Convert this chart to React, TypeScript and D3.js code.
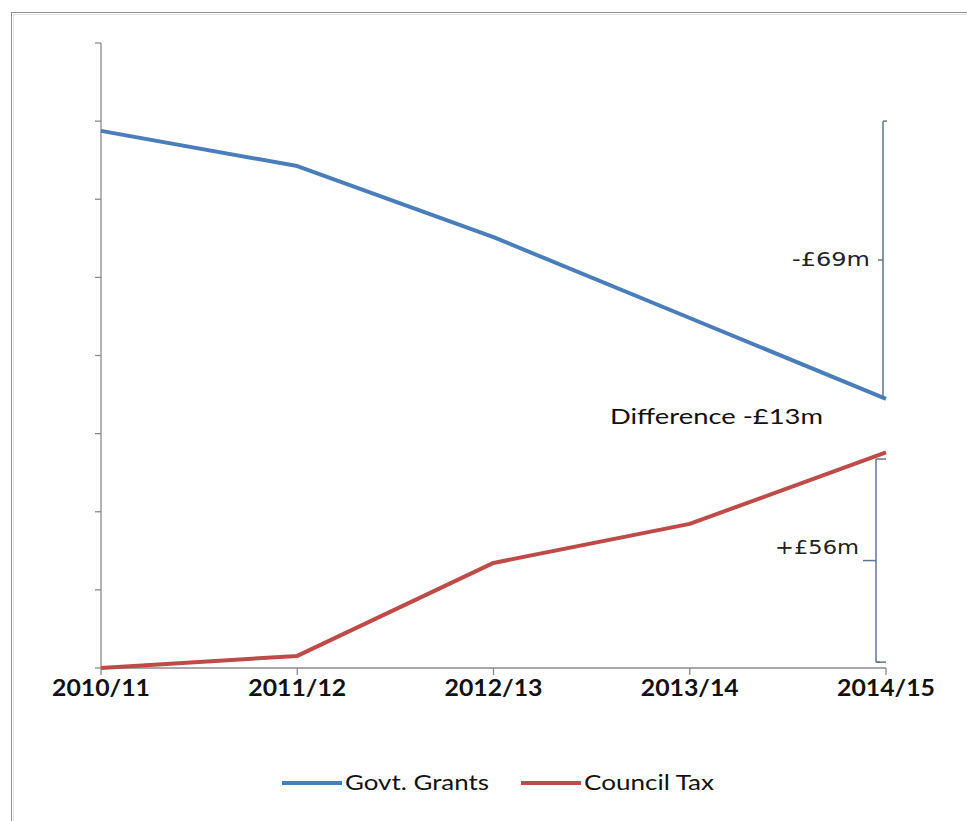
import React from "react";
import * as d3 from "d3";

const categories = ["2010/11", "2011/12", "2012/13", "2013/14", "2014/15"];
const govtGrants = [137.5, 128.5, 110.3, 89.6, 68.9];
const councilTax = [0, 3.1, 26.9, 36.9, 55.2];
const yTicks = [0, 20, 40, 60, 80, 100, 120, 140, 160];
const seriesNames = ["Govt. Grants", "Council Tax"];
const bracketLabels = ["-£69m", "+£56m"];
const bracketFrom = [140, 1.5];
const bracketTo = [68.9, 53.5];
const differenceLabel = "Difference -£13m";

const W = 967;
const H = 821;
const left = 101;
const right = 886;
const top = 43;
const bottom = 668;

const BLUE = "#4a7ebb";
const RED = "#be4b48";
const AXIS = "#8a8a8a";
const BRACKET = "#5f7690";

export default function App() {
  const x = d3.scalePoint<string>().domain(categories).range([left, right]);
  const y = d3.scaleLinear().domain([0, 160]).range([bottom, top]);
  const line = d3
    .line<number>()
    .x((_, i) => x(categories[i]) as number)
    .y((d) => y(d));

  const bx = [883, 876];

  return (
    <svg
      width={W}
      height={H}
      style={{ position: "absolute", left: 0, top: 0, background: "#fff" }}
    >
      {/* chart frame */}
      <rect x={11.5} y={12.5} width={1000} height={900} fill="none" stroke="#8f8f8f" strokeWidth={1} />
      <rect x={13.5} y={14.5} width={1000} height={900} fill="none" stroke="#e2e2e2" strokeWidth={1} />

      {/* y axis */}
      <line x1={left} x2={left} y1={y(160)} y2={y(0)} stroke={AXIS} strokeWidth={1.3} />
      {yTicks.map((t) => (
        <line key={t} x1={left - 6} x2={left} y1={y(t)} y2={y(t)} stroke={AXIS} strokeWidth={1.3} />
      ))}

      {/* x axis */}
      <line x1={left} x2={right} y1={bottom} y2={bottom} stroke={AXIS} strokeWidth={1.3} />
      {categories.map((c) => (
        <g key={c}>
          <line x1={x(c)} x2={x(c)} y1={bottom} y2={bottom + 7} stroke={AXIS} strokeWidth={1.3} />
          <text
            x={x(c)}
            y={696}
            textAnchor="middle"
            fontFamily="Lato, 'Liberation Sans', sans-serif"
            fontWeight="bold"
            fontSize={22}
            textLength={98}
            lengthAdjust="spacingAndGlyphs"
            fill="#111"
          >
            {c}
          </text>
        </g>
      ))}

      {/* series */}
      <path d={line(govtGrants) || ""} fill="none" stroke={BLUE} strokeWidth={4} strokeLinejoin="round" />
      <path d={line(councilTax) || ""} fill="none" stroke={RED} strokeWidth={4} strokeLinejoin="round" />

      {/* brackets */}
      {bracketLabels.map((lab, i) => {
        const y1 = y(bracketFrom[i]);
        const y2 = y(bracketTo[i]);
        const ym = (y1 + y2) / 2;
        const xx = bx[i];
        const isTopOnly = i === 0;
        return (
          <g key={lab}>
            <line x1={xx} x2={xx} y1={y1} y2={y2} stroke={BRACKET} strokeWidth={1.5} />
            <line x1={xx} x2={xx + 4} y1={y1} y2={y1} stroke={BRACKET} strokeWidth={1.5} />
            {!isTopOnly && <line x1={xx} x2={xx + 10} y1={y2} y2={y2} stroke={BRACKET} strokeWidth={1.5} />}
            {!isTopOnly && <line x1={xx} x2={xx + 10} y1={y1} y2={y1} stroke={BRACKET} strokeWidth={1.5} />}
            <line x1={xx - (i === 0 ? 5 : 13)} x2={xx} y1={ym} y2={ym} stroke={BRACKET} strokeWidth={1.5} />
            <text
              x={i === 0 ? 870 : 859}
              y={i === 0 ? ym + 6 : ym - 7}
              textAnchor="end"
              fontFamily="'DejaVu Sans', Verdana, sans-serif"
              fontSize={19}
              textLength={i === 0 ? 78 : 84}
              lengthAdjust="spacingAndGlyphs"
              fill="#222"
            >
              {lab}
            </text>
          </g>
        );
      })}

      <text
        x={610}
        y={424}
        fontFamily="Lato, 'Liberation Sans', sans-serif"
        fontSize={22}
        textLength={213}
        lengthAdjust="spacingAndGlyphs"
        fill="#111"
      >
        {differenceLabel}
      </text>

      {/* legend */}
      {seriesNames.map((name, i) => {
        const lx = i === 0 ? 282 : 521;
        const tw = i === 0 ? 144 : 130;
        return (
          <g key={name}>
            <line x1={lx} x2={lx + 60} y1={783} y2={783} stroke={i === 0 ? BLUE : RED} strokeWidth={4} />
            <text
              x={lx + 63}
              y={790}
              fontFamily="Lato, 'Liberation Sans', sans-serif"
              fontSize={21}
              textLength={tw}
              lengthAdjust="spacingAndGlyphs"
              fill="#111"
            >
              {name}
            </text>
          </g>
        );
      })}
    </svg>
  );
}
